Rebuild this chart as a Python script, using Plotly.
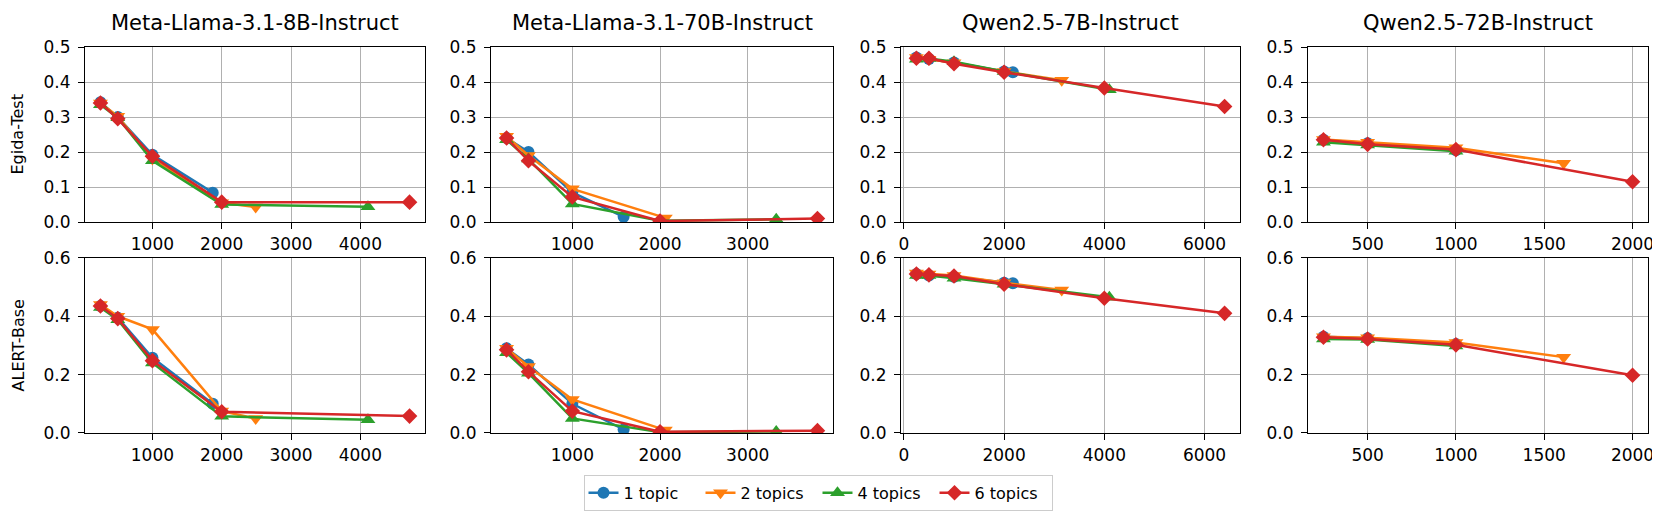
import plotly.graph_objects as go

MODELS = ["Meta-Llama-3.1-8B-Instruct", "Meta-Llama-3.1-70B-Instruct",
          "Qwen2.5-7B-Instruct", "Qwen2.5-72B-Instruct"]
BENCHMARKS = ["Egida-Test", "ALERT-Base"]
TOPICS = ["1 topic", "2 topics", "4 topics", "6 topics"]

# ---- Meta-Llama-3.1-8B-Instruct ----
l8_x_t1 = [250, 500, 1000, 1870]
l8_x_t2 = [250, 500, 1000, 2000, 2490]
l8_x_t4 = [250, 500, 1000, 2000, 4110]
l8_x_t6 = [250, 500, 1000, 2000, 4710]
l8_egida_t1 = [0.342, 0.300, 0.192, 0.084]
l8_egida_t2 = [0.340, 0.302, 0.180, 0.055, 0.043]
l8_egida_t4 = [0.335, 0.298, 0.175, 0.050, 0.044]
l8_egida_t6 = [0.340, 0.295, 0.188, 0.057, 0.057]
l8_alert_t1 = [0.435, 0.395, 0.258, 0.100]
l8_alert_t2 = [0.440, 0.400, 0.355, 0.075, 0.050]
l8_alert_t4 = [0.430, 0.388, 0.240, 0.057, 0.045]
l8_alert_t6 = [0.435, 0.392, 0.248, 0.073, 0.058]

# ---- Meta-Llama-3.1-70B-Instruct ----
l70_x_t1 = [250, 500, 1000, 1585]
l70_x_t2 = [250, 500, 1000, 2060]
l70_x_t4 = [250, 500, 1000, 2000, 3325]
l70_x_t6 = [250, 500, 1000, 2000, 3795]
l70_egida_t1 = [0.240, 0.200, 0.085, 0.015]
l70_egida_t2 = [0.245, 0.190, 0.095, 0.012]
l70_egida_t4 = [0.235, 0.180, 0.052, 0.004, 0.008]
l70_egida_t6 = [0.240, 0.175, 0.072, 0.003, 0.010]
l70_alert_t1 = [0.290, 0.235, 0.100, 0.012]
l70_alert_t2 = [0.290, 0.228, 0.115, 0.010]
l70_alert_t4 = [0.275, 0.205, 0.050, 0.003, 0.005]
l70_alert_t6 = [0.285, 0.210, 0.075, 0.004, 0.008]

# ---- Qwen2.5-7B-Instruct ----
q7_x_t1 = [250, 500, 1000, 2000, 2175]
q7_x_t2 = [250, 500, 1000, 2000, 3150]
q7_x_t4 = [250, 500, 1000, 2000, 4100]
q7_x_t6 = [250, 500, 1000, 2000, 4000, 6400]
q7_egida_t1 = [0.470, 0.466, 0.456, 0.430, 0.428]
q7_egida_t2 = [0.470, 0.465, 0.455, 0.430, 0.405]
q7_egida_t4 = [0.465, 0.467, 0.458, 0.430, 0.378]
q7_egida_t6 = [0.468, 0.468, 0.452, 0.428, 0.383, 0.330]
q7_alert_t1 = [0.545, 0.540, 0.535, 0.515, 0.513]
q7_alert_t2 = [0.548, 0.545, 0.540, 0.515, 0.490]
q7_alert_t4 = [0.540, 0.540, 0.530, 0.510, 0.465]
q7_alert_t6 = [0.545, 0.542, 0.538, 0.510, 0.462, 0.410]

# ---- Qwen2.5-72B-Instruct ----
q72_x_t1 = [250, 500, 1000]
q72_x_t2 = [250, 500, 1000, 1610]
q72_x_t4 = [250, 500, 1000]
q72_x_t6 = [250, 500, 1000, 2000]
q72_egida_t1 = [0.235, 0.225, 0.205]
q72_egida_t2 = [0.236, 0.228, 0.212, 0.168]
q72_egida_t4 = [0.228, 0.220, 0.202]
q72_egida_t6 = [0.235, 0.222, 0.207, 0.115]
q72_alert_t1 = [0.330, 0.325, 0.305]
q72_alert_t2 = [0.330, 0.326, 0.310, 0.260]
q72_alert_t4 = [0.322, 0.320, 0.298]
q72_alert_t6 = [0.328, 0.322, 0.302, 0.198]

X_TICKS = [[1000, 2000, 3000, 4000], [1000, 2000, 3000],
           [0, 2000, 4000, 6000], [500, 1000, 1500, 2000]]
Y_TICKS = [[0.0, 0.1, 0.2, 0.3, 0.4, 0.5], [0.0, 0.2, 0.4, 0.6]]
Y_MAX = [0.5, 0.6]

data_x = [
    [l8_x_t1, l8_x_t2, l8_x_t4, l8_x_t6],
    [l70_x_t1, l70_x_t2, l70_x_t4, l70_x_t6],
    [q7_x_t1, q7_x_t2, q7_x_t4, q7_x_t6],
    [q72_x_t1, q72_x_t2, q72_x_t4, q72_x_t6],
]
data_y = [
    [[l8_egida_t1, l8_egida_t2, l8_egida_t4, l8_egida_t6],
     [l8_alert_t1, l8_alert_t2, l8_alert_t4, l8_alert_t6]],
    [[l70_egida_t1, l70_egida_t2, l70_egida_t4, l70_egida_t6],
     [l70_alert_t1, l70_alert_t2, l70_alert_t4, l70_alert_t6]],
    [[q7_egida_t1, q7_egida_t2, q7_egida_t4, q7_egida_t6],
     [q7_alert_t1, q7_alert_t2, q7_alert_t4, q7_alert_t6]],
    [[q72_egida_t1, q72_egida_t2, q72_egida_t4, q72_egida_t6],
     [q72_alert_t1, q72_alert_t2, q72_alert_t4, q72_alert_t6]],
]

COLORS = ["#1f77b4", "#ff7f0e", "#2ca02c", "#d62728"]
SYMBOLS = ["circle", "triangle-down", "triangle-up", "diamond"]
SIZES = [12, 13, 13, 12]

W, H = 1660, 515
ML, MR, MT, MB = 77, 20, 39, 88
PW = W - ML - MR
PH = H - MT - MB
col_px = [(77, 417), (483, 825), (893, 1232), (1300, 1640)]
row_px = [(39, 215), (251, 427)]

def xdom(c):
    a, b = col_px[c]
    return [(a - ML) / PW, (b - ML) / PW]

def ydom(r):
    a, b = row_px[r]
    return [1 - (b - MT) / PH, 1 - (a - MT) / PH]

FONT = "DejaVu Sans"
fig = go.Figure()
layout = dict(
    width=W, height=H,
    margin=dict(l=ML, r=MR, t=MT, b=MB),
    paper_bgcolor="white", plot_bgcolor="white",
    font=dict(family=FONT, size=17, color="black"),
    showlegend=True,
)

annotations = []
for r in range(2):
    for c in range(4):
        idx = r * 4 + c + 1
        xa = "x" if idx == 1 else f"x{idx}"
        ya = "y" if idx == 1 else f"y{idx}"
        allx = [v for lst in data_x[c] for v in lst]
        lo, hi = min(allx), max(allx)
        pad = 0.05 * (hi - lo)
        for t in range(4):
            fig.add_trace(go.Scatter(
                x=data_x[c][t], y=data_y[c][r][t], xaxis=xa, yaxis=ya,
                mode="lines+markers", name=TOPICS[t],
                legendgroup=TOPICS[t], showlegend=(idx == 1),
                line=dict(color=COLORS[t], width=2.5),
                marker=dict(symbol=SYMBOLS[t], size=SIZES[t], color=COLORS[t],
                            line=dict(width=0)),
                cliponaxis=True,
            ))
        axcommon = dict(showline=True, mirror=True, linecolor="black", linewidth=1.2,
                        showgrid=True, gridcolor="#b0b0b0", gridwidth=1,
                        ticks="outside", ticklen=6, tickwidth=1.2, tickcolor="black",
                        zeroline=False, tickfont=dict(family=FONT, size=17))
        layout["xaxis" + ("" if idx == 1 else str(idx))] = dict(
            domain=xdom(c), anchor=ya, range=[lo - pad, hi + pad],
            tickvals=X_TICKS[c], ticktext=[str(v) for v in X_TICKS[c]], **axcommon)
        layout["yaxis" + ("" if idx == 1 else str(idx))] = dict(
            domain=ydom(r), anchor=xa, range=[0, Y_MAX[r]], ticklabelstandoff=4,
            tickvals=Y_TICKS[r], ticktext=[f"{v:.1f}" for v in Y_TICKS[r]], **axcommon)

for c in range(4):
    d = xdom(c)
    annotations.append(dict(text=MODELS[c], x=(d[0] + d[1]) / 2, y=1 + (39 - 15) / PH,
                            xref="paper", yref="paper", showarrow=False,
                            xanchor="center", yanchor="middle",
                            font=dict(family=FONT, size=21)))
for r in range(2):
    d = ydom(r)
    annotations.append(dict(text=BENCHMARKS[r], x=(10 - ML) / PW, y=(d[0] + d[1]) / 2,
                            xref="paper", yref="paper", showarrow=False, textangle=-90,
                            xanchor="center", yanchor="middle",
                            font=dict(family=FONT, size=16)))

layout["annotations"] = annotations
layout["legend"] = dict(orientation="h", x=(810 - ML) / PW, xanchor="center",
                        y=(427 - 469) / PH, yanchor="top",
                        bordercolor="#cccccc", borderwidth=1, bgcolor="white",
                        font=dict(family=FONT, size=16), entrywidth=72,
                        itemwidth=30)
fig.update_layout(**layout)
fig.write_html("out.html")
